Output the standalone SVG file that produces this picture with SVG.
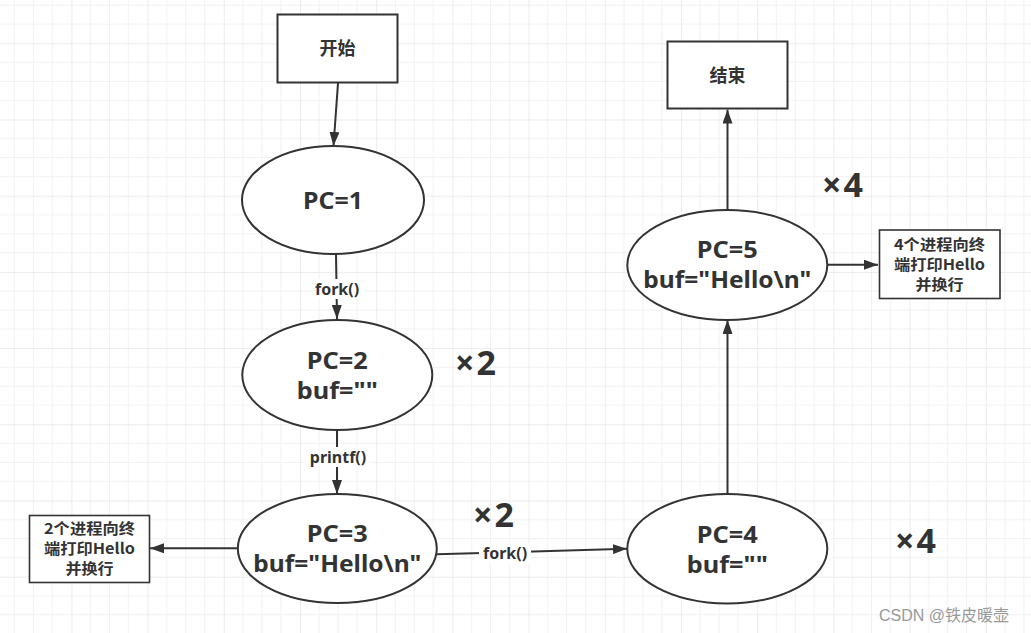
<svg xmlns="http://www.w3.org/2000/svg" width="1031" height="633" viewBox="0 0 1031 633">
  <defs>
    <pattern id="grid" patternUnits="userSpaceOnUse" x="71.4" y="43.3" width="76.2" height="76.2">
      <path d="M19.05 0V76.2M38.1 0V76.2M57.15 0V76.2M0 19.05H76.2M0 38.1H76.2M0 57.15H76.2" stroke="#f1f1f1" stroke-width="1" fill="none"/>
      <path d="M0 0V76.2M0 0H76.2" stroke="#e6e6e6" stroke-width="1.5" fill="none"/>
    </pattern>
    <marker id="arrL" viewBox="0 0 14 10" refX="14" refY="5" markerWidth="14" markerHeight="10" markerUnits="userSpaceOnUse" orient="auto">
      <path d="M0 0L14 5L0 10Z" fill="#333"/>
    </marker>
  </defs>
  <style>
    .shape { fill: #fff; stroke: #333; stroke-width: 2; }
    .box { fill: #fff; stroke: #333; stroke-width: 1.6; }
    .big { font-family: "Noto Sans", "Noto Sans CJK SC", sans-serif; font-weight: bold; font-size: 24px; fill: #333; text-anchor: middle; }
    .cjk { font-family: "Noto Sans CJK SC", "Noto Sans", sans-serif; font-weight: bold; font-size: 18px; fill: #333; text-anchor: middle; }
    .note { font-family: "Noto Sans CJK SC", "Noto Sans", sans-serif; font-weight: bold; font-size: 15px; fill: #333; text-anchor: middle; }
    .lbl { font-family: "Noto Sans", "Noto Sans CJK SC", sans-serif; font-weight: bold; font-size: 16px; fill: #333; text-anchor: middle; }
    .mult { font-family: "Noto Sans", "Noto Sans CJK SC", sans-serif; font-weight: bold; font-size: 34px; letter-spacing: 2px; fill: #333; }
    .edge { stroke: #333; stroke-width: 2; fill: none; }
  </style>
  <rect width="1031" height="633" fill="#fff"/>
  <rect width="1031" height="633" fill="url(#grid)"/>

  <g id="connectors">
    <line class="edge" x1="338" y1="83" x2="333.5" y2="146" marker-end="url(#arrL)"/>
    <line class="edge" x1="336" y1="254" x2="337" y2="319" marker-end="url(#arrL)"/>
    <rect x="311" y="279" width="52" height="20" fill="#fff"/>
    <text class="lbl" x="337" y="294.5">fork()</text>
    <line class="edge" x1="337" y1="430" x2="337" y2="494" marker-end="url(#arrL)"/>
    <rect x="306" y="447" width="64" height="20" fill="#fff"/>
    <text class="lbl" x="338" y="462.5">printf()</text>
    <line class="edge" x1="237.5" y1="548.3" x2="150" y2="548.3" marker-end="url(#arrL)"/>
    <line class="edge" x1="436.5" y1="554.3" x2="627" y2="548.7" marker-end="url(#arrL)"/>
    <rect x="479" y="543" width="52" height="20" fill="#fff"/>
    <text class="lbl" x="505" y="558.5">fork()</text>
    <line class="edge" x1="727.5" y1="494" x2="727.5" y2="320" marker-end="url(#arrL)"/>
    <line class="edge" x1="727.5" y1="210" x2="727.5" y2="109.5" marker-end="url(#arrL)"/>
    <line class="edge" x1="827" y1="264.7" x2="878" y2="264.7" marker-end="url(#arrL)"/>
  </g>

  <g id="start">
    <rect class="shape" x="277.5" y="14.5" width="120" height="68"/>
    <text class="cjk" x="337.5" y="55">开始</text>
  </g>
  <g id="end">
    <rect class="shape" x="667.5" y="41.5" width="120" height="67"/>
    <text class="cjk" x="727.5" y="81.5">结束</text>
  </g>
  <g id="pc1">
    <ellipse class="shape" cx="333" cy="200" rx="91" ry="54"/>
    <text class="big" x="333" y="209" textLength="60" lengthAdjust="spacingAndGlyphs">PC=1</text>
  </g>
  <g id="pc2">
    <ellipse class="shape" cx="337.3" cy="375" rx="95" ry="55"/>
    <text class="big" x="337.3" y="368.5" textLength="61" lengthAdjust="spacingAndGlyphs">PC=2</text>
    <text class="big" x="337.3" y="398.5" textLength="81" lengthAdjust="spacingAndGlyphs">buf=""</text>
  </g>
  <g id="pc3">
    <ellipse class="shape" cx="337.3" cy="548.5" rx="99.5" ry="54.5"/>
    <text class="big" x="337.3" y="542" textLength="61" lengthAdjust="spacingAndGlyphs">PC=3</text>
    <text class="big" x="337.3" y="572" textLength="168" lengthAdjust="spacingAndGlyphs">buf="Hello\n"</text>
  </g>
  <g id="pc4">
    <ellipse class="shape" cx="727.3" cy="548.7" rx="100" ry="54.7"/>
    <text class="big" x="727.3" y="542.5" textLength="61" lengthAdjust="spacingAndGlyphs">PC=4</text>
    <text class="big" x="727.3" y="572.5" textLength="81" lengthAdjust="spacingAndGlyphs">buf=""</text>
  </g>
  <g id="pc5">
    <ellipse class="shape" cx="727.3" cy="265" rx="100" ry="55"/>
    <text class="big" x="727.3" y="257.5" textLength="61" lengthAdjust="spacingAndGlyphs">PC=5</text>
    <text class="big" x="727.3" y="287.5" textLength="168" lengthAdjust="spacingAndGlyphs">buf="Hello\n"</text>
  </g>
  <g id="note2">
    <rect class="box" x="29.5" y="515.5" width="120" height="67"/>
    <text class="note" x="89.5" y="533.5" textLength="91" lengthAdjust="spacingAndGlyphs">2个进程向终</text>
    <text class="note" x="89.5" y="553.5" textLength="91" lengthAdjust="spacingAndGlyphs">端打印Hello</text>
    <text class="note" x="89.5" y="573.5" textLength="48" lengthAdjust="spacingAndGlyphs">并换行</text>
  </g>
  <g id="note4">
    <rect class="box" x="879.5" y="230" width="120.5" height="68.5"/>
    <text class="note" x="939.5" y="249.5" textLength="91" lengthAdjust="spacingAndGlyphs">4个进程向终</text>
    <text class="note" x="939.5" y="269.5" textLength="91" lengthAdjust="spacingAndGlyphs">端打印Hello</text>
    <text class="note" x="939.5" y="289.5" textLength="48" lengthAdjust="spacingAndGlyphs">并换行</text>
  </g>
  <g id="mult">
    <text class="mult" x="455" y="375">×2</text>
    <text class="mult" x="473" y="526.5">×2</text>
    <text class="mult" x="822" y="196.5">×4</text>
    <text class="mult" x="895" y="552.5">×4</text>
  </g>
  <text x="879" y="621" font-family="'Liberation Sans', 'Noto Sans CJK SC', sans-serif" font-size="16" fill="#999">CSDN @铁皮暖壶</text>
</svg>
